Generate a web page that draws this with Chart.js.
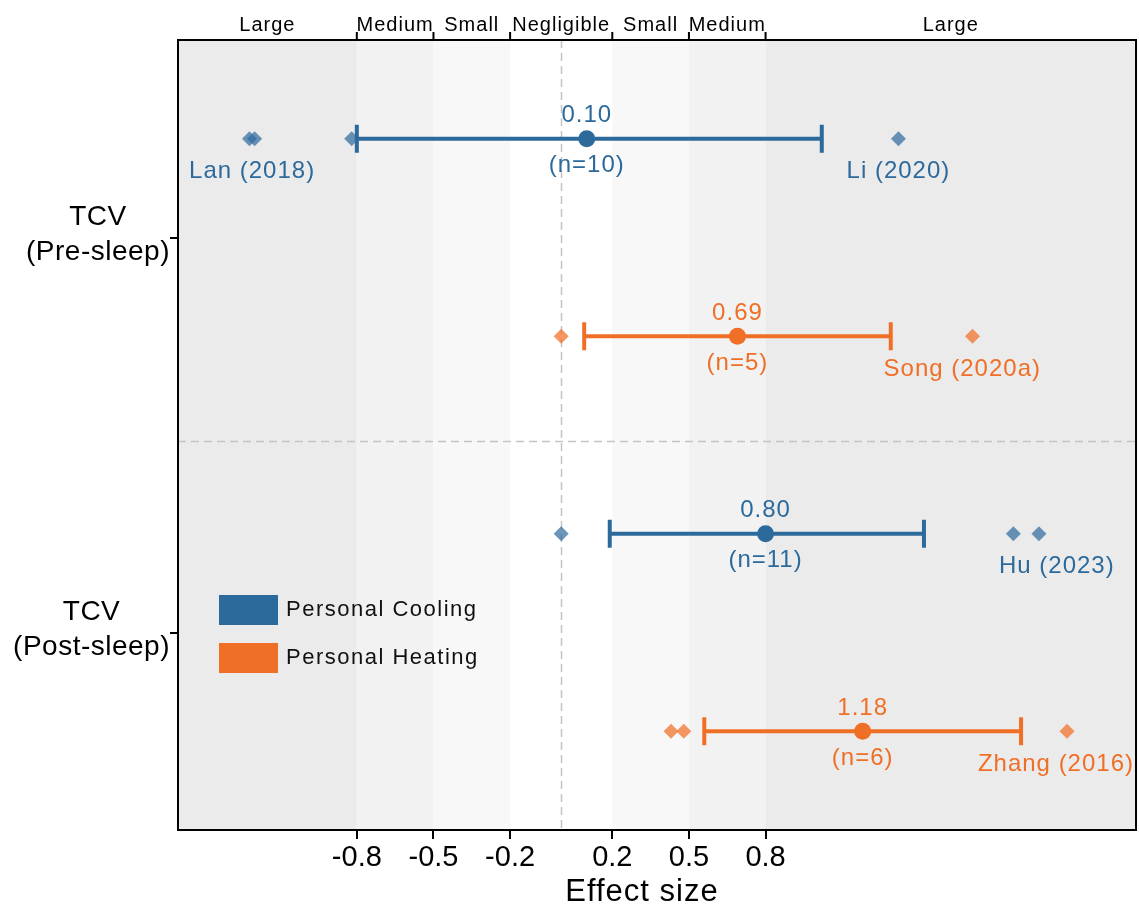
<!DOCTYPE html>
<html>
<head>
<meta charset="utf-8">
<title>Effect size of personal comfort systems on TCV</title>
<script src="https://cdn.jsdelivr.net/npm/chart.js@4.4.1/dist/chart.umd.min.js"></script>
<style>
  html, body { margin: 0; padding: 0; background: #ffffff; overflow: hidden; }
  #wrap { width: 1139px; height: 909px; }
  #forest { display: block; width: 1139px; height: 909px; }
</style>
</head>
<body>
<div id="wrap"><canvas id="forest" width="1139" height="909"></canvas></div>
<script>
// ---- data ---------------------------------------------------------------
// effect-size thresholds (also the x tick values) and the band names between them
const effectTicks = [-0.8, -0.5, -0.2, 0.2, 0.5, 0.8];
const effectTickLabels = ['-0.8', '-0.5', '-0.2', '0.2', '0.5', '0.8'];
const effectBands = ['Large', 'Medium', 'Small', 'Negligible', 'Small', 'Medium', 'Large'];
const axisTitle = 'Effect size';

const groupNames = [['TCV', '(Pre-sleep)'], ['TCV', '(Post-sleep)']];
const interventions = ['Personal Cooling', 'Personal Heating'];

// one entry per row, top to bottom
const rowGroup = [0, 0, 1, 1];
const rowIntervention = [0, 1, 0, 1];
const meanEffect = [0.10, 0.69, 0.80, 1.18];
const ciLower = [-0.80, 0.09, 0.19, 0.56];
const ciUpper = [1.02, 1.29, 1.42, 1.80];
const studyCount = [10, 5, 11, 6];
const studyEffects = [
  [-1.22, -1.20, -0.82, 1.32],
  [0.00, 1.61],
  [0.00, 1.77, 1.87],
  [0.43, 0.48, 1.98]
];
// extreme studies that get a name under them: [name, effect size]
const namedStudies = [
  [['Lan (2018)', -1.21], ['Li (2020)', 1.32]],
  [['Song (2020a)', 1.57]],
  [['Hu (2023)', 1.94]],
  [['Zhang (2016)', 1.98]]
];

// ---- styling ------------------------------------------------------------
const FONT = '"Liberation Sans", Arial, Helvetica, sans-serif';
const interventionColor = ['#2c6a9c', '#f06f26'];
const interventionFade = ['rgba(44,106,156,0.70)', 'rgba(240,111,38,0.72)'];
const bandFill = { Large: '#ebebeb', Medium: '#f2f2f2', Small: '#f8f8f8', Negligible: '#ffffff' };
const groupDivider = 2.03;

const rowY = i => i + 0.5;
const groupTickAt = groupNames.map((_, g) => {
  const ys = rowGroup.map((gg, i) => gg === g ? rowY(i) : null).filter(v => v !== null);
  return ys.reduce((a, b) => a + b, 0) / ys.length;
});

// ---- datasets -----------------------------------------------------------
const datasets = [];

// pooled means (drawn on top)
interventions.forEach((name, k) => {
  datasets.push({
    label: name,
    data: meanEffect.map((m, i) => rowIntervention[i] === k ? { x: m, y: rowY(i) } : null).filter(Boolean),
    pointStyle: 'circle',
    pointRadius: 8.5,
    pointBackgroundColor: interventionColor[k],
    pointBorderWidth: 0,
    showLine: false,
    order: 0
  });
});

// confidence intervals with vertical caps
meanEffect.forEach((_, i) => {
  const k = rowIntervention[i];
  datasets.push({
    type: 'line',
    label: interventions[k] + ' CI',
    data: [{ x: ciLower[i], y: rowY(i) }, { x: ciUpper[i], y: rowY(i) }],
    borderColor: interventionColor[k],
    borderWidth: 4,
    showLine: true,
    fill: false,
    pointStyle: 'line',
    pointRotation: 90,
    pointRadius: 14,
    pointBorderWidth: 4,
    pointBorderColor: interventionColor[k],
    order: 1
  });
});

// individual study effects
interventions.forEach((name, k) => {
  const pts = [];
  studyEffects.forEach((list, i) => {
    if (rowIntervention[i] === k) list.forEach(v => pts.push({ x: v, y: rowY(i) }));
  });
  datasets.push({
    label: name + ' studies',
    data: pts,
    pointStyle: 'rectRot',
    pointRadius: 7.5,
    pointBackgroundColor: interventionFade[k],
    pointBorderWidth: 0,
    showLine: false,
    order: 2
  });
});

// ---- custom drawing: bands, guides, frame and annotations --------------
const forestDecor = {
  id: 'forestDecor',
  beforeDatasetsDraw(chart) {
    const { ctx, chartArea: a, scales: { x, y } } = chart;
    ctx.save();
    const edges = [x.min, ...effectTicks, x.max];
    effectBands.forEach((b, i) => {
      const x0 = x.getPixelForValue(edges[i]);
      const x1 = x.getPixelForValue(edges[i + 1]);
      ctx.fillStyle = bandFill[b];
      ctx.fillRect(x0, a.top, x1 - x0, a.bottom - a.top);
    });
    ctx.strokeStyle = '#c4c4c4';
    ctx.lineWidth = 1.5;
    ctx.setLineDash([8, 5]);
    const zx = Math.round(x.getPixelForValue(0)) + 0.5;
    ctx.beginPath(); ctx.moveTo(zx, a.top); ctx.lineTo(zx, a.bottom); ctx.stroke();
    const dy = Math.round(y.getPixelForValue(groupDivider)) + 0.5;
    ctx.beginPath(); ctx.moveTo(a.left, dy); ctx.lineTo(a.right, dy); ctx.stroke();
    ctx.restore();
  },
  afterDatasetsDraw(chart) {
    const { ctx, chartArea: a, scales: { x, y } } = chart;
    ctx.save();
    ctx.setLineDash([]);

    // frame
    ctx.strokeStyle = '#000';
    ctx.lineWidth = 2;
    ctx.strokeRect(a.left, a.top, a.right - a.left, a.bottom - a.top);

    // top threshold ticks and band names
    ctx.beginPath();
    effectTicks.forEach(v => {
      const px = x.getPixelForValue(v);
      ctx.moveTo(px, a.top - 8); ctx.lineTo(px, a.top);
    });
    ctx.stroke();
    const edges = [x.min, ...effectTicks, x.max];
    ctx.fillStyle = '#000';
    ctx.letterSpacing = '1px';
    ctx.font = '20px ' + FONT;
    ctx.textAlign = 'center';
    ctx.textBaseline = 'middle';
    effectBands.forEach((b, i) => {
      const cx = (x.getPixelForValue(edges[i]) + x.getPixelForValue(edges[i + 1])) / 2;
      ctx.fillText(b, cx, a.top - 15);
    });

    // x axis title, set slightly left of the panel centre
    ctx.font = '31px ' + FONT;
    ctx.fillText(axisTitle, (a.left + a.right) / 2 - 15, a.bottom + 62);

    // group labels on the y axis: right-aligned block, centred lines
    ctx.letterSpacing = '0.5px';
    ctx.font = '28px ' + FONT;
    groupNames.forEach((lines, g) => {
      const ty = y.getPixelForValue(groupTickAt[g]);
      const w = Math.max(...lines.map(t => ctx.measureText(t).width));
      const cx = a.left - 8 - w / 2;
      ctx.fillText(lines[0], cx, ty - 20);
      ctx.fillText(lines[1], cx, ty + 15);
    });

    // mean values, study counts and named studies
    ctx.letterSpacing = '1px';
    meanEffect.forEach((m, i) => {
      const col = interventionColor[rowIntervention[i]];
      const py = y.getPixelForValue(rowY(i));
      const px = x.getPixelForValue(m);
      ctx.fillStyle = col;
      ctx.font = '24px ' + FONT;
      ctx.textAlign = 'center';
      ctx.fillText(m.toFixed(2), px, py - 23);
      ctx.fillText('(n=' + studyCount[i] + ')', px, py + 27);
      namedStudies[i].forEach(([name, v]) => {
        const w = ctx.measureText(name).width;
        let cx = x.getPixelForValue(v);
        cx = Math.min(cx, a.right - 2 - w / 2);
        cx = Math.max(cx, a.left + 2 + w / 2);
        ctx.fillText(name, cx, py + 33);
      });
    });

    // legend
    ctx.letterSpacing = '1.5px';
    ctx.textAlign = 'left';
    ctx.font = '22px ' + FONT;
    interventions.forEach((name, k) => {
      const top = a.top + 555 + k * 48;
      ctx.fillStyle = interventionColor[k];
      ctx.fillRect(a.left + 41, top, 59, 30);
      ctx.fillStyle = '#111';
      ctx.fillText(name, a.left + 108, top + 15);
    });
    ctx.restore();
  }
};

new Chart(document.getElementById('forest'), {
  type: 'scatter',
  data: { datasets },
  options: {
    responsive: false,
    devicePixelRatio: 1,
    animation: false,
    events: [],
    layout: { autoPadding: false, padding: { top: 40, right: 3, bottom: 0, left: 0 } },
    plugins: {
      legend: { display: false },
      tooltip: { enabled: false }
    },
    scales: {
      x: {
        type: 'linear',
        min: -1.5,
        max: 2.25,
        afterBuildTicks: s => { s.ticks = effectTicks.map(v => ({ value: v })); },
        afterFit: s => { s.height = 79; s.paddingLeft = 0; s.paddingRight = 0; },
        grid: { drawOnChartArea: false, drawTicks: true, tickLength: 9, color: '#000', lineWidth: 2 },
        border: { display: false },
        ticks: {
          autoSkip: false,
          maxRotation: 0,
          padding: 2,
          color: '#000',
          font: { family: FONT, size: 29 },
          callback: (v, i) => effectTickLabels[i]
        },
        title: { display: false }
      },
      y: {
        type: 'linear',
        min: 0,
        max: 4,
        reverse: true,
        afterBuildTicks: s => { s.ticks = groupTickAt.map(v => ({ value: v })); },
        afterFit: s => { s.width = 178; },
        grid: { drawOnChartArea: false, drawTicks: true, tickLength: 8, color: '#000', lineWidth: 2 },
        border: { display: false },
        ticks: { display: false }
      }
    }
  },
  plugins: [forestDecor]
});
</script>
</body>
</html>
